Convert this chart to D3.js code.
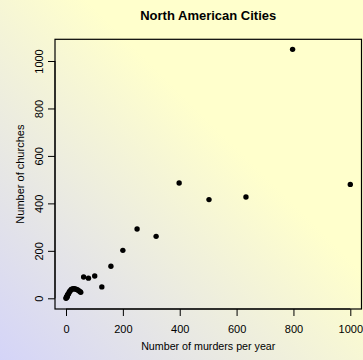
<!DOCTYPE html>
<html>
<head>
<meta charset="utf-8">
<script src="https://cdn.jsdelivr.net/npm/d3@7"></script>
<style>
html,body{margin:0;padding:0;background:#fff;}
svg{display:block;}
text{font-family:"Liberation Sans",Arial,Helvetica,sans-serif;fill:#000;}
</style>
</head>
<body>
<svg id="chart" width="363" height="360"></svg>
<script>
const title = "North American Cities";
const xLabel = "Number of murders per year";
const yLabel = "Number of churches";
const xTicks = [0, 200, 400, 600, 800, 1000];
const yTicks = [0, 200, 400, 600, 800, 1000];
const murders = [0, 1, 2, 3, 4, 5, 6, 8, 10, 12, 15, 18, 20, 25, 30, 35, 40, 45, 50, 52,
                 62, 79, 101, 126, 158, 200, 250, 317, 398, 503, 633, 797, 1000];
const churches = [0, 2, 5, 8, 6, 12, 15, 18, 22, 28, 32, 36, 38, 40, 40, 38, 36, 32, 28, 25,
                  90, 85, 94, 48, 135, 202, 292, 261, 486, 416, 427, 1049, 480];

const svg = d3.select("#chart");
const W = 363, H = 360;
const defs = svg.append("defs");
const grad = defs.append("linearGradient").attr("id", "bg")
  .attr("x1", "0").attr("y1", "1").attr("x2", "1").attr("y2", "0");
grad.append("stop").attr("offset", "0").attr("stop-color", "#d4d4f8");
grad.append("stop").attr("offset", "0.62").attr("stop-color", "#ffffcc");
grad.append("stop").attr("offset", "1").attr("stop-color", "#ffffcc");
svg.append("rect").attr("width", W).attr("height", H).attr("fill", "url(#bg)");

const box = {left: 55, right: 361.5, top: 39.3, bottom: 309};
const x = d3.scaleLinear().domain([0, 1000]).range([66, 350.3]);
const y = d3.scaleLinear().domain([0, 1000]).range([298.3, 61]);

// box
svg.append("rect").attr("x", box.left).attr("y", box.top)
  .attr("width", box.right - box.left).attr("height", box.bottom - box.top)
  .attr("fill", "none").attr("stroke", "#000").attr("stroke-width", 1.2);

// x axis
const xAxis = d3.axisBottom(x).tickValues(xTicks).tickSize(7).tickPadding(9.5).tickFormat(d3.format("d"));
const gx = svg.append("g").attr("transform", `translate(0,${box.bottom})`).call(xAxis);
gx.select(".domain").attr("stroke", "#000").attr("d", `M${x(0)},0H${x(1000)}`);
gx.selectAll(".tick line").attr("stroke", "#000");
gx.selectAll("text").style("font-size", "11px").attr("fill", "#000")
  .style("font-family", '"Liberation Sans",Arial,sans-serif');

// y axis
const yAxis = d3.axisLeft(y).tickValues(yTicks).tickSize(7).tickPadding(0).tickFormat(d3.format("d"));
const gy = svg.append("g").attr("transform", `translate(${box.left},0)`).call(yAxis);
gy.select(".domain").attr("stroke", "#000").attr("d", `M0,${y(0)}V${y(1000)}`);
gy.selectAll(".tick line").attr("stroke", "#000");
gy.selectAll("text").style("font-size", "11px").attr("fill", "#000")
  .style("font-family", '"Liberation Sans",Arial,sans-serif')
  .attr("x", null).attr("dy", null)
  .attr("text-anchor", "middle")
  .attr("transform", "translate(-12,0) rotate(-90)");

// points
svg.append("g").selectAll("circle").data(murders.map((m, i) => [m, churches[i]]))
  .join("circle")
  .attr("cx", d => x(d[0])).attr("cy", d => y(d[1]))
  .attr("r", 2.7).attr("fill", "#000");

// title
svg.append("text").attr("x", (box.left + box.right) / 2).attr("y", 20.4)
  .attr("text-anchor", "middle").style("font-size", "13px").style("font-weight", "bold")
  .text(title);

// axis titles
svg.append("text").attr("x", (box.left + box.right) / 2).attr("y", 350)
  .attr("text-anchor", "middle").style("font-size", "10.7px").text(xLabel);
svg.append("text").attr("transform", `translate(24,${(box.top + box.bottom) / 2}) rotate(-90)`)
  .attr("text-anchor", "middle").style("font-size", "11px").text(yLabel);
</script>
</body>
</html>
